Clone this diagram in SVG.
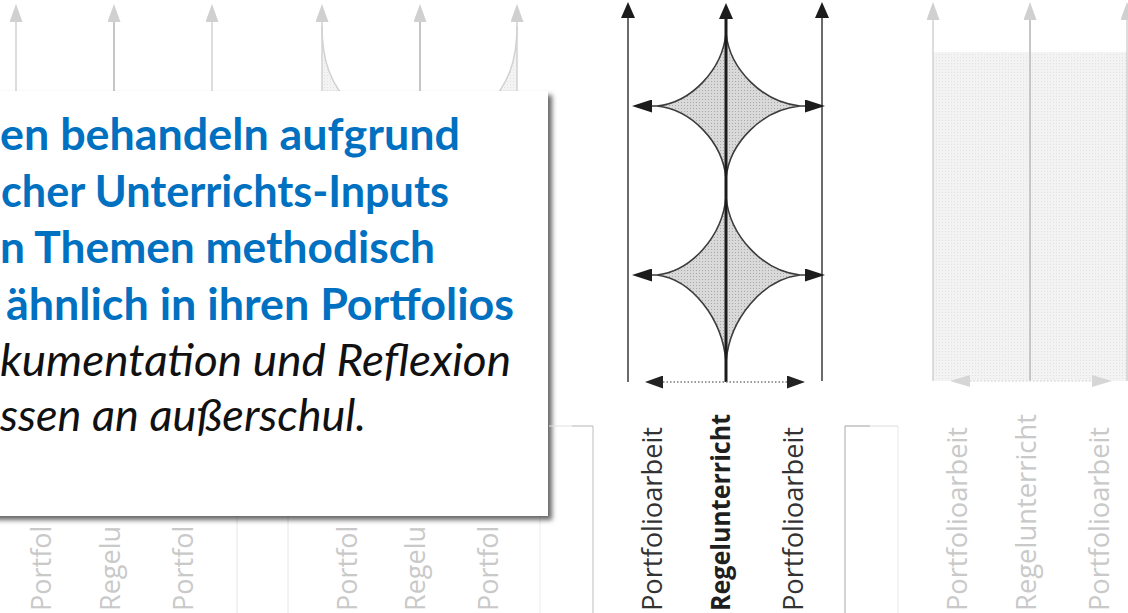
<svg xmlns="http://www.w3.org/2000/svg" width="1128" height="613" viewBox="0 0 1128 613">
<defs>
<style>
.lab{font-family:"Open Sans","Noto Sans",sans-serif;font-size:27px;}
.main{fill:#333;font-weight:500;}
.mainb{fill:#1f1f1f;font-weight:700;}
.fade{fill:#c9c9c9;}
.blue{font-family:Lato,"Open Sans",sans-serif;font-weight:700;font-size:44px;fill:#0070C0;}
.ital{font-family:Lato,"Open Sans",sans-serif;font-style:italic;font-size:44px;fill:#111;}
.fl{stroke:#d2d2d2;stroke-width:1.5;fill:none;}
.flc{stroke:#c6c6c6;stroke-width:2;fill:none;}
.side{stroke:#474747;stroke-width:1.6;fill:none;}
.center{stroke:#1c1c1c;stroke-width:3;fill:none;}
.star{fill:url(#dots);stroke:#3c3c3c;stroke-width:1.6;}
</style>
<pattern id="dots" width="3" height="3" patternUnits="userSpaceOnUse"><rect width="3" height="3" fill="#d9d9d9"/><rect width="1" height="1" fill="#a9a9a9"/></pattern>
<pattern id="dotsF" width="3" height="3" patternUnits="userSpaceOnUse"><rect width="3" height="3" fill="#f3f3f3"/><rect width="1" height="1" fill="#e2e2e2"/></pattern>
<marker id="ahUp" viewBox="0 0 16 14" markerWidth="16" markerHeight="14" refX="0" refY="7" orient="auto" markerUnits="userSpaceOnUse"><path d="M0,0 L16,7 L0,14 z" fill="#1c1c1c"/></marker>
<marker id="ahSide" viewBox="0 0 20 13" markerWidth="20" markerHeight="13" refX="0" refY="6.5" orient="auto" markerUnits="userSpaceOnUse"><path d="M0,0 L20,6.5 L0,13 z" fill="#1c1c1c"/></marker>
<marker id="ahBot" viewBox="0 0 18 13" markerWidth="18" markerHeight="13" refX="0" refY="6.5" orient="auto-start-reverse" markerUnits="userSpaceOnUse"><path d="M0,0 L18,6.5 L0,13 z" fill="#222"/></marker>
<marker id="ahUpF" viewBox="0 0 18 13" markerWidth="18" markerHeight="13" refX="0" refY="6.5" orient="auto" markerUnits="userSpaceOnUse"><path d="M0,0 L18,6.5 L0,13 z" fill="#d0d0d0"/></marker>
<marker id="ahBotF" viewBox="0 0 20 12" markerWidth="20" markerHeight="12" refX="0" refY="6" orient="auto-start-reverse" markerUnits="userSpaceOnUse"><path d="M0,0 L20,6 L0,12 z" fill="#d6d6d6"/></marker>
<filter id="shadow" x="-5%" y="-5%" width="115%" height="115%"><feDropShadow dx="4" dy="4" stdDeviation="2.5" flood-color="#000" flood-opacity="0.6"/></filter>
</defs>
<rect width="1128" height="613" fill="#fff"/>

<!-- faded left diagrams (partly hidden by the text box) -->
<g id="faded-left">
  <path d="M322,26 C322,60 330,84 352,106 L322,106 Z" fill="url(#dotsF)"/>
  <path d="M517,26 C517,60 509,84 487,106 L517,106 Z" fill="url(#dotsF)"/>
  <path d="M322,26 C322,60 330,84 352,106" class="fl"/>
  <path d="M517,26 C517,60 509,84 487,106" class="fl"/>
  <g id="faded-left-labels">
    <text class="lab fade" transform="translate(51,611) rotate(-90)">Portfol</text>
    <text class="lab fade" transform="translate(119.5,611) rotate(-90)">Regelu</text>
    <text class="lab fade" transform="translate(192.5,611) rotate(-90)">Portfol</text>
    <text class="lab fade" transform="translate(356.5,611) rotate(-90)">Portfol</text>
    <text class="lab fade" transform="translate(425,611) rotate(-90)">Regelu</text>
    <text class="lab fade" transform="translate(498,611) rotate(-90)">Portfol</text>
  </g>
  <line x1="237" y1="500" x2="237" y2="613" stroke="#e6e6e6"/>
  <line x1="288" y1="500" x2="288" y2="613" stroke="#e6e6e6"/>
  <line x1="540" y1="500" x2="540" y2="613" stroke="#ececec"/>
</g>
<g id="connectors-faded-left">
  <line class="fl" x1="16" y1="130" x2="16" y2="22" marker-end="url(#ahUpF)"/>
  <line class="flc" x1="114" y1="130" x2="114" y2="22" marker-end="url(#ahUpF)"/>
  <line class="fl" x1="212" y1="130" x2="212" y2="22" marker-end="url(#ahUpF)"/>
  <line class="fl" x1="322" y1="130" x2="322" y2="22" marker-end="url(#ahUpF)"/>
  <line class="flc" x1="420" y1="130" x2="420" y2="22" marker-end="url(#ahUpF)"/>
  <line class="fl" x1="517" y1="130" x2="517" y2="22" marker-end="url(#ahUpF)"/>
</g>

<!-- text box -->
<g id="textbox">
  <rect x="-20" y="91" width="568" height="425" fill="#fff" filter="url(#shadow)"/>
  <text class="blue" x="0" y="150" textLength="460" lengthAdjust="spacingAndGlyphs">en behandeln aufgrund</text>
  <text class="blue" x="1" y="207" textLength="448" lengthAdjust="spacingAndGlyphs">cher Unterrichts-Inputs</text>
  <text class="blue" x="0" y="263" textLength="435" lengthAdjust="spacingAndGlyphs">n Themen methodisch</text>
  <text class="blue" x="6" y="320" textLength="508" lengthAdjust="spacingAndGlyphs">ähnlich in ihren Portfolios</text>
  <text class="ital" x="0" y="376" textLength="511" lengthAdjust="spacingAndGlyphs">kumentation und Reflexion</text>
  <text class="ital" x="0" y="431" textLength="366" lengthAdjust="spacingAndGlyphs">ssen an außerschul.</text>
</g>

<!-- label frames -->
<g id="frames">
  <line x1="549" y1="426" x2="572" y2="426" stroke="#e0e0e0"/>
  <line x1="572" y1="426" x2="593" y2="426" stroke="#b5b5b5"/>
  <line x1="593" y1="426" x2="593" y2="613" stroke="#bdbdbd"/>
  <line x1="845" y1="426" x2="845" y2="613" stroke="#a8a8a8"/>
  <line x1="845" y1="426" x2="870" y2="426" stroke="#a0a0a0"/>
  <line x1="870" y1="426" x2="898" y2="426" stroke="#dcdcdc"/>
  <line x1="898" y1="426" x2="898" y2="613" stroke="#e8e8e8"/>
</g>

<!-- main diagram -->
<g id="star-top">
  <path class="star" d="M726,33 C722.5,69.5 691.5,102.4 657,106 C691.5,109.6 722.5,142 726,178 C729.7,142 763,109.6 800,106 C763,102.4 729.7,69.5 726,33 Z"/>
</g>
<g id="star-bottom">
  <path class="star" d="M726,197 C722.5,236 691.5,271.1 657,275 C691.5,279.4 722.5,318.5 726,362 C729.7,318.5 763,279.4 800,275 C763,271.1 729.7,236 726,197 Z"/>
</g>
<g id="label-portfolio-left"><text class="lab main" transform="translate(661.5,611) rotate(-90)" textLength="184" lengthAdjust="spacingAndGlyphs">Portfolioarbeit</text></g>
<g id="label-regel"><text class="lab mainb" transform="translate(730,611) rotate(-90)" textLength="197" lengthAdjust="spacingAndGlyphs">Regelunterricht</text></g>
<g id="label-portfolio-right"><text class="lab main" transform="translate(803,611) rotate(-90)" textLength="184" lengthAdjust="spacingAndGlyphs">Portfolioarbeit</text></g>

<!-- faded right diagram -->
<g id="faded-right">
  <rect x="933" y="52" width="195" height="329" fill="url(#dotsF)"/>
  <text class="lab fade" transform="translate(967,611) rotate(-90)" textLength="184" lengthAdjust="spacingAndGlyphs">Portfolioarbeit</text>
  <text class="lab fade" transform="translate(1035.5,611) rotate(-90)" textLength="197" lengthAdjust="spacingAndGlyphs">Regelunterricht</text>
  <text class="lab fade" transform="translate(1108.5,611) rotate(-90)" textLength="184" lengthAdjust="spacingAndGlyphs">Portfolioarbeit</text>
</g>

<!-- connectors -->
<g id="connectors">
  <line class="side" x1="628" y1="382" x2="628" y2="18" marker-end="url(#ahUp)"/>
  <line class="center" x1="726" y1="382" x2="726" y2="19" marker-end="url(#ahUp)"/>
  <line class="side" x1="822" y1="381" x2="822" y2="18" marker-end="url(#ahUp)"/>
  <line class="side" x1="657" y1="106" x2="652" y2="106" marker-end="url(#ahSide)"/>
  <line class="side" x1="800" y1="106" x2="805" y2="106" marker-end="url(#ahSide)"/>
  <line class="side" x1="657" y1="275" x2="652" y2="275" marker-end="url(#ahSide)"/>
  <line class="side" x1="800" y1="275" x2="805" y2="275" marker-end="url(#ahSide)"/>
  <line x1="663" y1="382" x2="787" y2="382" stroke="#7a7a7a" stroke-width="1.5" stroke-dasharray="1.5 2" marker-start="url(#ahBot)" marker-end="url(#ahBot)"/>
  <line class="fl" x1="933" y1="381" x2="933" y2="20" marker-end="url(#ahUpF)"/>
  <line class="flc" x1="1030" y1="381" x2="1030" y2="20" marker-end="url(#ahUpF)"/>
  <line class="fl" x1="1127" y1="381" x2="1127" y2="20" marker-end="url(#ahUpF)"/>
  <line x1="970" y1="381" x2="1092" y2="381" stroke="#dcdcdc" stroke-width="1.5" stroke-dasharray="1.5 2" marker-start="url(#ahBotF)" marker-end="url(#ahBotF)"/>
</g>
</svg>
